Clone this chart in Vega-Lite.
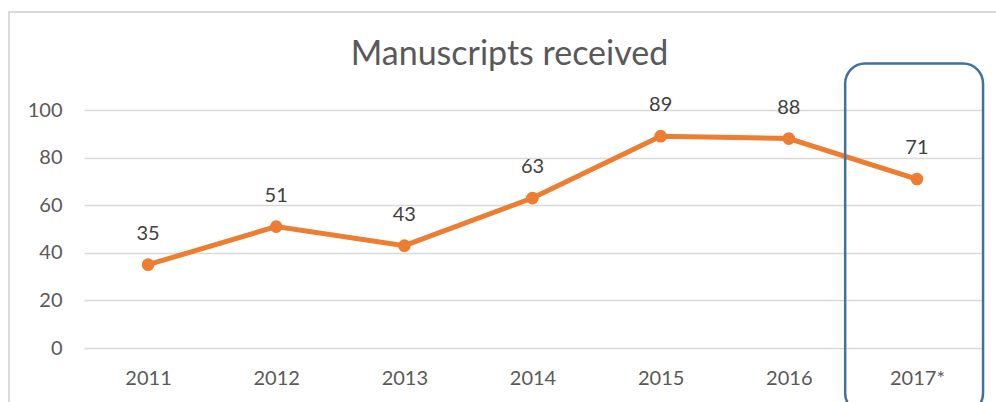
{
  "$schema": "https://vega.github.io/schema/vega-lite/v6.json",
  "autosize": {"type": "none"},
  "width": 897,
  "height": 238,
  "padding": {"left": 84, "top": 110, "right": 15, "bottom": 54},
  "background": "white",
  "config": {
    "view": {"stroke": null},
    "font": "Lato"
  },
  "title": {
    "text": "Manuscripts received",
    "fontSize": 34,
    "font": "Lato",
    "fontWeight": "normal",
    "color": "#595959",
    "anchor": "middle",
    "frame": "group",
    "baseline": "alphabetic",
    "offset": -88,
    "dx": -23
  },
  "datasets": {
    "series": [
      {"year": "2011", "value": 35},
      {"year": "2012", "value": 51},
      {"year": "2013", "value": 43},
      {"year": "2014", "value": 63},
      {"year": "2015", "value": 89},
      {"year": "2016", "value": 88},
      {"year": "2017*", "value": 71}
    ],
    "frames": [
      {"name": "outer", "x0": -0.585, "x1": 8, "y0": 141.2, "y1": -40},
      {"name": "highlight", "x0": 5.94, "x1": 7.016, "y0": 119.5, "y1": -27.4}
    ]
  },
  "resolve": {"scale": {"x": "independent"}},
  "layer": [
    {
      "data": {"name": "frames"},
      "transform": [{"filter": "datum.name == 'outer'"}],
      "mark": {"type": "rect", "fill": null, "stroke": "#d9d9d9", "strokeWidth": 2},
      "encoding": {
        "x": {"field": "x0", "type": "quantitative", "scale": {"domain": [0, 7], "nice": false, "zero": false}, "axis": null},
        "x2": {"field": "x1"},
        "y": {"field": "y0", "type": "quantitative", "scale": {"domain": [0, 100], "nice": false},
          "axis": {"title": null, "domain": false, "ticks": false, "values": [0, 20, 40, 60, 80, 100], "grid": true, "gridColor": "#d9d9d9", "gridWidth": 1.5, "labelFontSize": 20, "labelColor": "#595959", "labelPadding": 22, "labelFont": "Lato"}},
        "y2": {"field": "y1"}
      }
    },
    {
      "data": {"name": "series"},
      "mark": {"type": "line", "color": "#ed7d31", "strokeWidth": 5, "point": {"filled": true, "size": 160, "color": "#ed7d31", "opacity": 1}},
      "encoding": {
        "x": {
          "field": "year", "type": "ordinal", "sort": null,
          "scale": {"type": "point", "padding": 0.5},
          "axis": {"title": null, "domain": false, "ticks": false, "grid": false, "labelAngle": 0, "labelFontSize": 20, "labelColor": "#595959", "labelPadding": 20, "labelFont": "Lato"}
        },
        "y": {
          "field": "value", "type": "quantitative",
          "scale": {"domain": [0, 100], "nice": false},
          "axis": {"title": null, "domain": false, "ticks": false, "values": [0, 20, 40, 60, 80, 100], "grid": true, "gridColor": "#d9d9d9", "gridWidth": 1.5, "labelFontSize": 20, "labelColor": "#595959", "labelPadding": 22, "labelFont": "Lato"}
        }
      }
    },
    {
      "data": {"name": "series"},
      "mark": {"type": "text", "fontSize": 20, "color": "#404040", "baseline": "middle", "dy": -31, "font": "Lato"},
      "encoding": {
        "x": {"field": "year", "type": "ordinal", "sort": null, "scale": {"type": "point", "padding": 0.5}, "axis": null},
        "y": {"field": "value", "type": "quantitative", "scale": {"domain": [0, 100], "nice": false},
          "axis": {"title": null, "domain": false, "ticks": false, "values": [0, 20, 40, 60, 80, 100], "grid": true, "gridColor": "#d9d9d9", "gridWidth": 1.5, "labelFontSize": 20, "labelColor": "#595959", "labelPadding": 22, "labelFont": "Lato"}},
        "text": {"field": "value", "type": "quantitative"}
      }
    },
    {
      "data": {"name": "frames"},
      "transform": [{"filter": "datum.name == 'highlight'"}],
      "mark": {"type": "rect", "fill": null, "stroke": "#41719c", "strokeWidth": 2.5, "cornerRadius": 20},
      "encoding": {
        "x": {"field": "x0", "type": "quantitative", "scale": {"domain": [0, 7], "nice": false, "zero": false}, "axis": null},
        "x2": {"field": "x1"},
        "y": {"field": "y0", "type": "quantitative", "scale": {"domain": [0, 100], "nice": false},
          "axis": {"title": null, "domain": false, "ticks": false, "values": [0, 20, 40, 60, 80, 100], "grid": true, "gridColor": "#d9d9d9", "gridWidth": 1.5, "labelFontSize": 20, "labelColor": "#595959", "labelPadding": 22, "labelFont": "Lato"}},
        "y2": {"field": "y1"}
      }
    }
  ]
}
